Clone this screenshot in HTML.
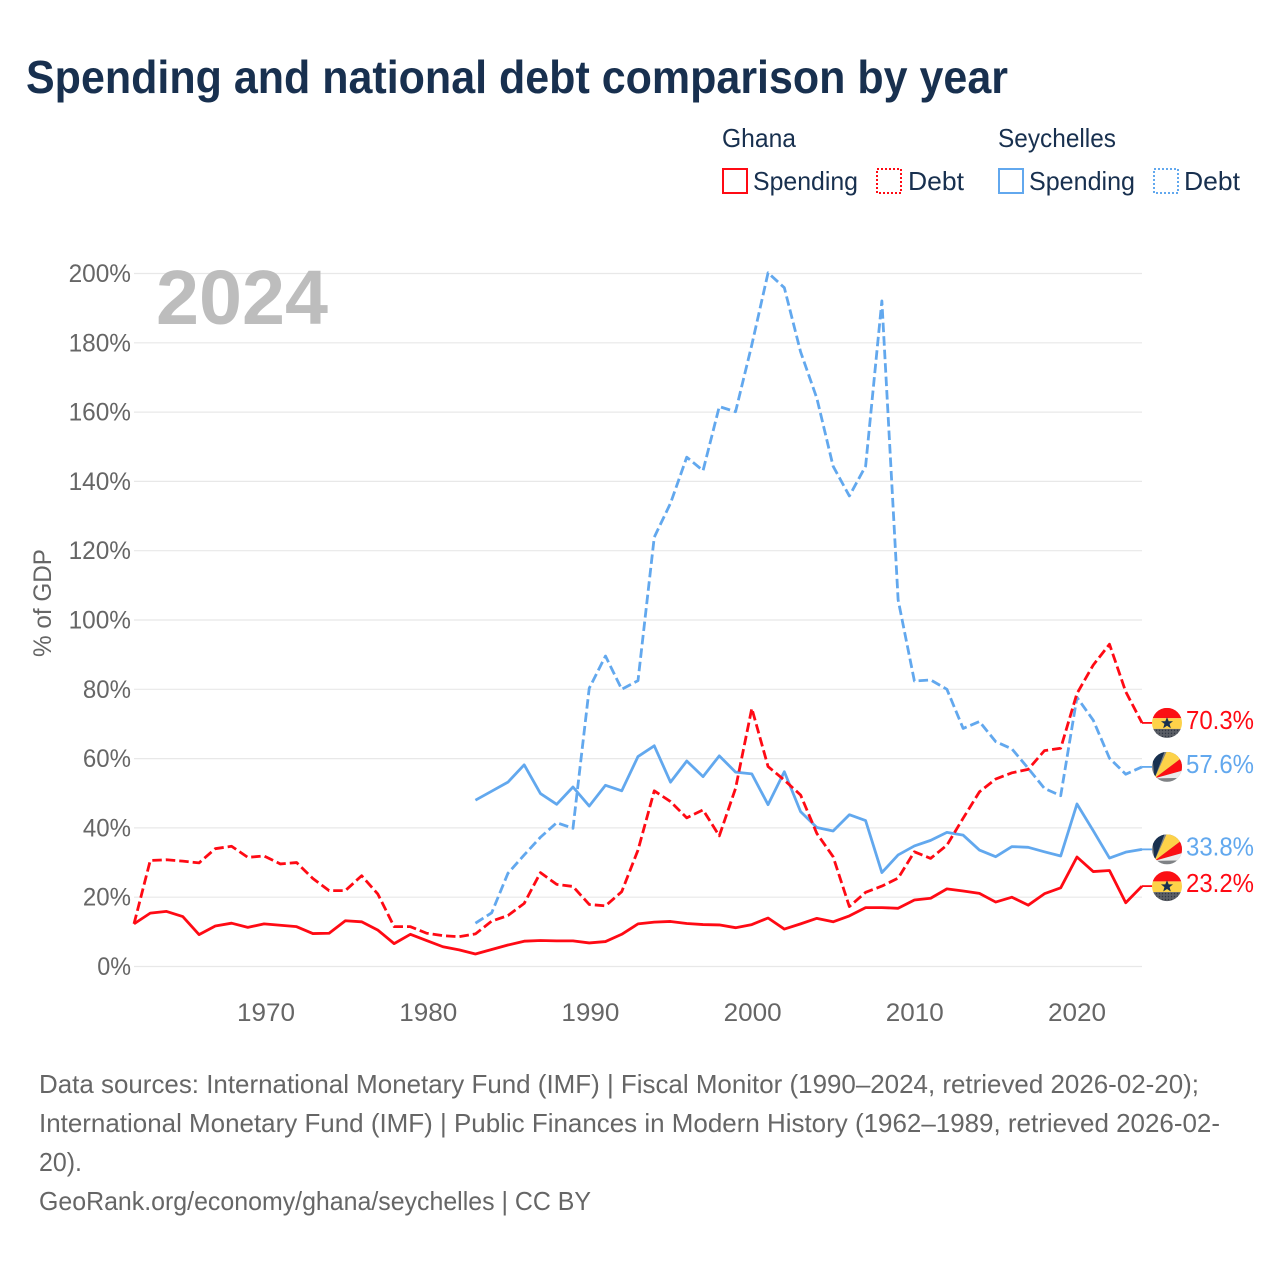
<!DOCTYPE html>
<html lang="en">
<head>
<meta charset="utf-8">
<title>Spending and national debt comparison by year</title>
<style>
  html, body { margin: 0; padding: 0; background: #fff; }
  svg { display: block; font-family: "Liberation Sans", sans-serif; }
</style>
</head>
<body>
<svg id="chart" width="1280" height="1280" viewBox="0 0 1280 1280" xmlns="http://www.w3.org/2000/svg">
  <defs>
    <clipPath id="flag-clip"><circle cx="0" cy="0" r="15"/></clipPath>
    <pattern id="dots" width="3" height="3" patternUnits="userSpaceOnUse">
      <rect width="3" height="3" fill="#5b5f66"/>
      <circle cx="1.5" cy="1.5" r="0.7" fill="#2d3440"/>
    </pattern>
    <symbol id="flag-ghana" viewBox="-15 -15 30 30" overflow="visible">
      <g clip-path="url(#flag-clip)">
        <rect x="-15" y="-15" width="30" height="10.3" fill="#fb0f14"/>
        <rect x="-15" y="-4.7" width="30" height="10.7" fill="#fdd249"/>
        <rect x="-15" y="6" width="30" height="9.5" fill="url(#dots)"/>
        <polygon points="0,-5.8 1.7,-1.7 6,-1.7 2.6,1 3.8,5.4 0,2.9 -3.8,5.4 -2.6,1 -6,-1.7 -1.7,-1.7" fill="#18304f"/>
      </g>
    </symbol>
    <symbol id="flag-seychelles" viewBox="-15 -15 30 30" overflow="visible">
      <g clip-path="url(#flag-clip)">
        <rect x="-15" y="-15" width="30" height="30" fill="#7f8285"/>
        <polygon points="-12.5,11.5 -15,-15 -2.5,-15" fill="#18304f"/>
        <polygon points="-12.5,11.5 -0.5,-15 16,-15 16,-10" fill="#fdd249"/>
        <polygon points="-12.5,11.5 16,-10 16,3.5" fill="#fb0f14"/>
        <polygon points="-12.5,11.5 16,3.5 16,11" fill="#ececec"/>
      </g>
    </symbol>
  </defs>

  <rect x="0" y="0" width="1280" height="1280" fill="#ffffff"/>

  <text x="26" y="93" font-size="46" font-weight="700" fill="#18304f" textLength="982" lengthAdjust="spacingAndGlyphs">Spending and national debt comparison by year</text>

  <g font-size="26" fill="#18304f">
    <text x="722" y="147" textLength="74" lengthAdjust="spacingAndGlyphs">Ghana</text>
    <text x="998" y="147" textLength="118" lengthAdjust="spacingAndGlyphs">Seychelles</text>

    <g>
      <rect x="723" y="169" width="24" height="24" fill="none" stroke="#ff0a14" stroke-width="2"/>
      <text x="753" y="190" textLength="105" lengthAdjust="spacingAndGlyphs">Spending</text>
    </g>
    <g>
      <rect x="877" y="169" width="24" height="24" fill="none" stroke="#ff0a14" stroke-width="2" stroke-dasharray="2 2"/>
      <text x="908" y="190" textLength="56" lengthAdjust="spacingAndGlyphs">Debt</text>
    </g>
    <g>
      <rect x="999" y="169" width="24" height="24" fill="none" stroke="#62a8ee" stroke-width="2"/>
      <text x="1029" y="190" textLength="106" lengthAdjust="spacingAndGlyphs">Spending</text>
    </g>
    <g>
      <rect x="1154" y="169" width="24" height="24" fill="none" stroke="#62a8ee" stroke-width="2" stroke-dasharray="2 2"/>
      <text x="1184" y="190" textLength="56" lengthAdjust="spacingAndGlyphs">Debt</text>
    </g>
  </g>

  <text transform="translate(51 603) rotate(-90)" text-anchor="middle" font-size="25" fill="#666666" textLength="108" lengthAdjust="spacingAndGlyphs">% of GDP</text>

  <g id="grid"></g>
  <g id="y-ticks"></g>
  <g id="x-ticks"></g>

  <text x="156" y="324" font-size="77" font-weight="700" fill="#bdbdbd" textLength="172" lengthAdjust="spacingAndGlyphs">2024</text>

  <g id="series"></g>
  <g id="end-labels"></g>

  <g font-size="26" fill="#666666">
    <text x="39" y="1093" textLength="1160" lengthAdjust="spacingAndGlyphs">Data sources: International Monetary Fund (IMF) | Fiscal Monitor (1990–2024, retrieved 2026-02-20);</text>
    <text x="39" y="1132" textLength="1181" lengthAdjust="spacingAndGlyphs">International Monetary Fund (IMF) | Public Finances in Modern History (1962–1989, retrieved 2026-02-</text>
    <text x="39" y="1171" textLength="43" lengthAdjust="spacingAndGlyphs">20).</text>
    <text x="39" y="1210" textLength="552" lengthAdjust="spacingAndGlyphs">GeoRank.org/economy/ghana/seychelles | CC BY</text>
  </g>
</svg>

<script>
const firstYear = 1962;
const lastYear = 2024;
const yTickValues = [0, 20, 40, 60, 80, 100, 120, 140, 160, 180, 200];
const xTickValues = [1970, 1980, 1990, 2000, 2010, 2020];

const ghanaSpending = [
  12.3, 15.4, 15.9, 14.4, 9.2, 11.7, 12.5, 11.3,
  12.3, 11.9, 11.5, 9.5, 9.6, 13.2, 12.9, 10.5, 6.6, 9.3,
  7.5, 5.7, 4.8, 3.6, 4.9, 6.2, 7.3, 7.5, 7.4, 7.4,
  6.8, 7.2, 9.3, 12.3, 12.8, 13.0, 12.4, 12.1, 12.0, 11.2,
  12.1, 14.0, 10.8, 12.3, 13.9, 12.9, 14.6, 17.0, 17.0, 16.8,
  19.2, 19.7, 22.4, 21.8, 21.1, 18.6, 20.0, 17.7, 21.0, 22.7,
  31.6, 27.4, 27.7, 18.4, 23.2
];
const ghanaDebt = [
  12.3, 30.6, 30.8, 30.4, 29.9, 34.0, 34.7, 31.5,
  31.9, 29.6, 30.0, 25.4, 21.9, 21.9, 26.2, 20.9, 11.5, 11.5,
  9.6, 8.9, 8.6, 9.4, 13.1, 14.7, 18.2, 27.1, 23.7, 23.1,
  17.9, 17.5, 21.6, 33.6, 50.7, 47.6, 42.9, 45.2, 37.7, 51.4,
  74.5, 57.7, 53.8, 49.5, 38.4, 31.7, 17.3, 21.4, 23.2, 25.5,
  33.1, 31.2, 35.0, 42.8, 50.4, 54.1, 55.9, 56.9, 62.3, 63.0,
  78.8, 87.0, 93.0, 79.3, 70.3
];
const seychellesSpending = [
  null, null, null, null, null, null, null, null,
  null, null, null, null, null, null, null, null, null, null,
  null, null, null, 48.0, 50.6, 53.2, 58.2, 49.9, 46.8, 51.8,
  46.3, 52.3, 50.7, 60.6, 63.7, 53.2, 59.3, 54.8, 60.8, 56.1,
  55.6, 46.7, 56.2, 44.7, 40.1, 39.1, 43.8, 42.1, 27.1, 32.2,
  34.8, 36.4, 38.7, 37.9, 33.6, 31.7, 34.6, 34.4, 33.1, 31.9,
  46.9, 39.2, 31.3, 33.0, 33.8
];
const seychellesDebt = [
  null, null, null, null, null, null, null, null,
  null, null, null, null, null, null, null, null, null, null,
  null, null, null, 12.5, 15.5, 26.9, 32.2, 37.3, 41.5, 39.9,
  80.3, 89.6, 80.0, 82.5, 123.9, 133.7, 147.0, 143.1, 161.6, 160.1,
  179.4, 200.2, 195.9, 177.4, 164.0, 144.4, 135.8, 144.4, 192.1, 105.8,
  82.4, 82.7, 80.0, 68.7, 70.7, 64.9, 62.8, 57.2, 51.4, 49.3,
  77.7, 71.1, 60.1, 55.5, 57.6
];

const NS = 'http://www.w3.org/2000/svg';
const RED = '#ff0a14';
const BLUE = '#62a8ee';
const plotLeft = 134, plotRight = 1142, plotTop = 273.5, plotBottom = 966.5;

function xScale(year) {
  return plotLeft + (year - firstYear) / (lastYear - firstYear) * (plotRight - plotLeft);
}
function yScale(value) {
  return plotBottom - value / 200 * (plotBottom - plotTop);
}
function xLabelPos(year) {
  return xScale(year) + 2 * (2020 - year) / 50;
}
function make(tag, attrs) {
  const el = document.createElementNS(NS, tag);
  for (const k in attrs) el.setAttribute(k, attrs[k]);
  return el;
}

const gridLayer = document.getElementById('grid');
const yTickLayer = document.getElementById('y-ticks');
const xTickLayer = document.getElementById('x-ticks');
const seriesLayer = document.getElementById('series');
const labelLayer = document.getElementById('end-labels');

yTickValues.forEach(function (v) {
  const y = yScale(v);
  const line = make('line', { x1: plotLeft, x2: plotRight, y1: y, y2: y, stroke: '#e8e8e8', 'stroke-width': 1.2 });
  
  
  gridLayer.appendChild(line);

  const label = String(v) + '%';
  const t = make('text', {
    x: 131, y: y + 8.5, 'text-anchor': 'end', 'font-size': 25, fill: '#666666',
    textLength: String(v).length * 14.3 + 19.5, lengthAdjust: 'spacingAndGlyphs'
  });
  
  
  t.textContent = label;
  yTickLayer.appendChild(t);
});

xTickValues.forEach(function (year) {
  const t = make('text', {
    x: xLabelPos(year), y: 1021, 'text-anchor': 'middle', 'font-size': 25, fill: '#666666',
    textLength: 58, lengthAdjust: 'spacingAndGlyphs'
  });
  
  
  t.textContent = String(year);
  xTickLayer.appendChild(t);
});

function linePoints(values) {
  const pts = [];
  values.forEach(function (v, i) {
    if (v !== null) pts.push(xScale(firstYear + i).toFixed(2) + ',' + yScale(v).toFixed(2));
  });
  return pts.join(' ');
}

function drawSeries(values, color, dashed, name) {
  const line = make('polyline', {
    points: linePoints(values), fill: 'none', stroke: color, 'stroke-width': 2.8,
    'stroke-linejoin': 'round'
  });
  if (dashed) line.setAttribute('stroke-dasharray', '9.5 4');
  
  
  seriesLayer.appendChild(line);
}

drawSeries(seychellesDebt, BLUE, true, 'line-seychelles-debt');
drawSeries(seychellesSpending, BLUE, false, 'line-seychelles-spending');
drawSeries(ghanaDebt, RED, true, 'line-ghana-debt');
drawSeries(ghanaSpending, RED, false, 'line-ghana-spending');

function drawEndLabel(values, color, flagId, name) {
  const v = values[values.length - 1];
  const y = yScale(v);

  const connector = make('line', { x1: plotRight, x2: plotRight + 10, y1: y, y2: y, stroke: color, 'stroke-width': 1.8 });
  
  
  labelLayer.appendChild(connector);

  const flag = make('use', { href: '#' + flagId, x: plotRight + 10, y: y - 15, width: 30, height: 30 });
  
  
  labelLayer.appendChild(flag);

  const t = make('text', {
    x: plotRight + 44, y: y + 6, 'font-size': 26, fill: color,
    textLength: 68, lengthAdjust: 'spacingAndGlyphs'
  });
  
  
  t.textContent = v.toFixed(1) + '%';
  labelLayer.appendChild(t);
}

drawEndLabel(ghanaDebt, RED, 'flag-ghana', 'end-label-ghana-debt');
drawEndLabel(seychellesDebt, BLUE, 'flag-seychelles', 'end-label-seychelles-debt');
drawEndLabel(seychellesSpending, BLUE, 'flag-seychelles', 'end-label-seychelles-spending');
drawEndLabel(ghanaSpending, RED, 'flag-ghana', 'end-label-ghana-spending');
</script>
</body>
</html>
